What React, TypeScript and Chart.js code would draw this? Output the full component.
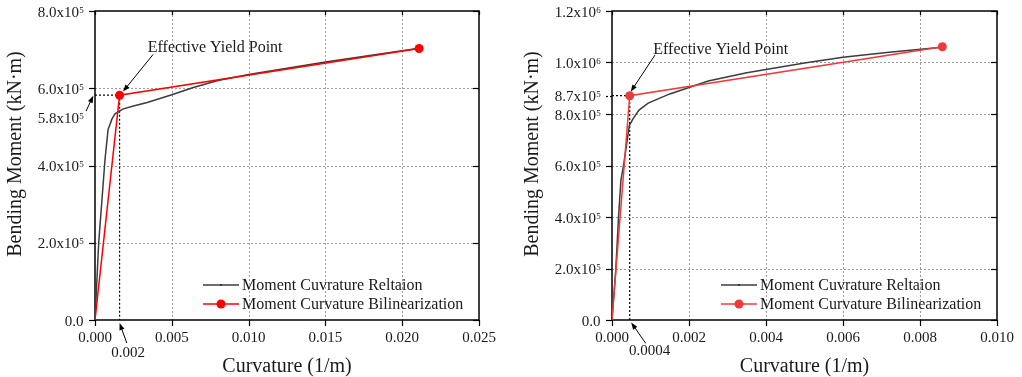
import React, { useEffect, useRef } from 'react';
import { Chart, registerables } from 'chart.js';

Chart.register(...registerables);

// ---------- DATA (left panel) ----------
const curvatureLeft = [0, 0.00024, 0.00065, 0.00085, 0.0011, 0.0013, 0.0018, 0.0025, 0.0034, 0.005, 0.0064, 0.008, 0.0101, 0.015, 0.021];
const momentLeft = [0, 200000, 415000, 493000, 520000, 534000, 546000, 554000, 563000, 583000, 602000, 620000, 636000, 668000, 703000];
const bilinCurvatureLeft = [0, 0.0016, 0.0211];
const bilinMomentLeft = [0, 582000, 703000];
const xTicksLeft = [0, 0.005, 0.01, 0.015, 0.02, 0.025];
const xTickLabelsLeft = ['0.000', '0.005', '0.010', '0.015', '0.020', '0.025'];
const yTicksLeft = [0, 200000, 400000, 600000, 800000];
const yTickLabelsLeft = ['0.0', '2.0x10^5', '4.0x10^5', '6.0x10^5', '8.0x10^5'];

// ---------- DATA (right panel) ----------
const curvatureRight = [0, 0.0001, 0.00017, 0.00023, 0.00031, 0.00045, 0.00055, 0.0007, 0.00094, 0.0015, 0.002, 0.0025, 0.0035, 0.005, 0.006, 0.0072, 0.0085];
const momentRight = [0, 200000, 400000, 540000, 610000, 755000, 782000, 815000, 842000, 878000, 903000, 928000, 960000, 998000, 1020000, 1040000, 1058000];
const bilinCurvatureRight = [0, 0.00046, 0.00858];
const bilinMomentRight = [0, 871000, 1061000];
const xTicksRight = [0, 0.002, 0.004, 0.006, 0.008, 0.01];
const xTickLabelsRight = ['0.000', '0.002', '0.004', '0.006', '0.008', '0.010'];
const yTicksRight = [0, 200000, 400000, 600000, 800000, 1000000, 1200000];
const yTickLabelsRight = ['0.0', '2.0x10^5', '4.0x10^5', '6.0x10^5', '8.0x10^5', '1.0x10^6', '1.2x10^6'];

// ---------- TEXT ----------
const seriesNames = ['Moment Cuvrature Reltaion', 'Moment Curvature Bilinearization'];
const xTitle = 'Curvature (1/m)';
const yTitle = 'Bending Moment (kN\u00B7m)';
const annotationText = 'Effective Yield Point';
const yieldYLabelLeft = '5.8x10^5';
const yieldXLabelLeft = '0.002';
const yieldYLabelRight = '8.7x10^5';
const yieldXLabelRight = '0.0004';

const FONT = '"Liberation Serif", "Times New Roman", serif';
const TEXT = '#1a1a1a';

type Panel = {
  curvature: number[];
  moment: number[];
  bCurv: number[];
  bMom: number[];
  xTicks: number[];
  xTickLabels: string[];
  yTicks: number[];
  yTickLabels: string[];
  red: string;
  yLabel: string;
  xLabel: string;
  yLabelArrow: boolean;
  yLabelDy: number;
  yLabelTick: boolean;
  txt: [number, number];
  arrTail: [number, number];
  arrTip: [number, number];
  xlab: [number, number];
  xArrTail: [number, number];
  xArrTip: [number, number];
  yArrTail: [number, number];
  yArrTip: [number, number];
  axisLeft: number;
  padRight: number;
};

function drawSup(ctx: CanvasRenderingContext2D, label: string, x: number, base: number, align: 'right' | 'center' | 'left', size = 15) {
  const [main, sup] = label.split('^');
  ctx.font = `${size}px ${FONT}`;
  const w1 = ctx.measureText(main).width;
  ctx.font = `9px ${FONT}`;
  const w2 = sup ? ctx.measureText(sup).width : 0;
  const total = w1 + w2;
  let sx = x;
  if (align === 'right') sx = x - total;
  else if (align === 'center') sx = x - total / 2;
  ctx.textAlign = 'left';
  ctx.textBaseline = 'alphabetic';
  ctx.fillStyle = TEXT;
  ctx.font = `${size}px ${FONT}`;
  ctx.fillText(main, sx, base);
  if (sup) {
    ctx.font = `9px ${FONT}`;
    ctx.fillText(sup, sx + w1 + 0.3, base - 4);
  }
}

function arrow(ctx: CanvasRenderingContext2D, x1: number, y1: number, x2: number, y2: number) {
  const ang = Math.atan2(y2 - y1, x2 - x1);
  const L = 7, W = 2.6;
  ctx.save();
  ctx.strokeStyle = '#000';
  ctx.fillStyle = '#000';
  ctx.lineWidth = 1;
  ctx.setLineDash([]);
  ctx.beginPath();
  ctx.moveTo(x1, y1);
  ctx.lineTo(x2 - Math.cos(ang) * L * 0.8, y2 - Math.sin(ang) * L * 0.8);
  ctx.stroke();
  ctx.beginPath();
  ctx.moveTo(x2, y2);
  ctx.lineTo(x2 - Math.cos(ang) * L - Math.sin(ang) * W, y2 - Math.sin(ang) * L + Math.cos(ang) * W);
  ctx.lineTo(x2 - Math.cos(ang) * L + Math.sin(ang) * W, y2 - Math.sin(ang) * L - Math.cos(ang) * W);
  ctx.closePath();
  ctx.fill();
  ctx.restore();
}

const panelPlugin = {
  id: 'panel',
  beforeDatasetsDraw(chart: any) {
    const p: Panel = chart.options.plugins.panel;
    const { ctx, chartArea: a } = chart;
    const xs = chart.scales.x, ys = chart.scales.y;
    ctx.save();
    ctx.strokeStyle = '#9c9c9c';
    ctx.lineWidth = 1;
    ctx.setLineDash([2, 2]);
    p.xTicks.slice(1, -1).forEach((v) => {
      const px = Math.round(xs.getPixelForValue(v)) + 0.5;
      ctx.beginPath(); ctx.moveTo(px, a.top); ctx.lineTo(px, a.bottom); ctx.stroke();
    });
    p.yTicks.slice(1, -1).forEach((v) => {
      const py = Math.round(ys.getPixelForValue(v)) + 0.5;
      ctx.beginPath(); ctx.moveTo(a.left, py); ctx.lineTo(a.right, py); ctx.stroke();
    });
    ctx.setLineDash([]);
    ctx.strokeStyle = '#000';
    ctx.lineWidth = 1.5;
    ctx.strokeRect(a.left, a.top, a.right - a.left, a.bottom - a.top);
    ctx.lineWidth = 1.2;
    p.xTicks.forEach((v) => {
      const px = Math.round(xs.getPixelForValue(v)) + 0.5;
      ctx.beginPath(); ctx.moveTo(px, a.bottom); ctx.lineTo(px, a.bottom + 6); ctx.stroke();
      ctx.beginPath(); ctx.moveTo(px, a.top); ctx.lineTo(px, a.top + 4); ctx.stroke();
    });
    p.yTicks.forEach((v) => {
      const py = Math.round(ys.getPixelForValue(v)) + 0.5;
      ctx.beginPath(); ctx.moveTo(a.left - 6, py); ctx.lineTo(a.left, py); ctx.stroke();
      ctx.beginPath(); ctx.moveTo(a.right - 6, py); ctx.lineTo(a.right, py); ctx.stroke();
    });
    ctx.restore();
  },
  afterDatasetsDraw(chart: any) {
    const p: Panel = chart.options.plugins.panel;
    const { ctx, chartArea: a } = chart;
    const xs = chart.scales.x, ys = chart.scales.y;
    ctx.save();
    p.xTicks.forEach((v, i) => drawSup(ctx, p.xTickLabels[i], xs.getPixelForValue(v), a.bottom + 22, 'center'));
    p.yTicks.forEach((v, i) => drawSup(ctx, p.yTickLabels[i], a.left - 11.5, ys.getPixelForValue(v) + 5.5, 'right'));
    ctx.fillStyle = TEXT;
    ctx.font = `20px ${FONT}`;
    ctx.textAlign = 'center';
    ctx.textBaseline = 'alphabetic';
    ctx.fillText(xTitle, (a.left + a.right) / 2, a.bottom + 51.5);
    ctx.save();
    ctx.translate(a.left - 74.5, 154);
    ctx.rotate(-Math.PI / 2);
    ctx.fillText(yTitle, 0, 0);
    ctx.restore();
    const lx = a.right - 276;
    const rows = [a.bottom - 35, a.bottom - 16];
    const cols = ['#3c3c3c', p.red];
    rows.forEach((ry, i) => {
      ctx.strokeStyle = cols[i];
      ctx.lineWidth = 1.5;
      ctx.beginPath(); ctx.moveTo(lx, ry); ctx.lineTo(lx + 36, ry); ctx.stroke();
      ctx.fillStyle = cols[i];
      if (i === 0) {
        ctx.fillRect(lx + 17, ry - 1, 2, 2);
      } else {
        ctx.beginPath(); ctx.arc(lx + 18, ry, 4.5, 0, Math.PI * 2); ctx.fill();
      }
      ctx.fillStyle = TEXT;
      ctx.font = `16px ${FONT}`;
      ctx.textAlign = 'left';
      ctx.fillText(seriesNames[i], lx + 39, ry + 5);
    });
    const yx = xs.getPixelForValue(p.bCurv[1]);
    const yy = ys.getPixelForValue(p.bMom[1]);
    ctx.fillStyle = TEXT;
    ctx.font = `16px ${FONT}`;
    ctx.textAlign = 'left';
    ctx.fillText(annotationText, yx + p.txt[0], yy + p.txt[1]);
    arrow(ctx, yx + p.arrTail[0], yy + p.arrTail[1], yx + p.arrTip[0], yy + p.arrTip[1]);
    drawSup(ctx, p.yLabel, a.left - 11.5, yy + p.yLabelDy, 'right');
    if (p.yLabelArrow) arrow(ctx, a.left + p.yArrTail[0], yy + p.yArrTail[1], a.left + p.yArrTip[0], yy + p.yArrTip[1]);
    if (p.yLabelTick) {
      ctx.strokeStyle = '#000';
      ctx.lineWidth = 1.2;
      ctx.setLineDash([2, 2]);
      ctx.beginPath(); ctx.moveTo(a.left - 6, Math.round(yy) + 0.5); ctx.lineTo(a.left, Math.round(yy) + 0.5); ctx.stroke();
      ctx.setLineDash([]);
    }
    drawSup(ctx, p.xLabel, yx + p.xlab[0], a.bottom + p.xlab[1], 'center');
    arrow(ctx, yx + p.xArrTail[0], a.bottom + p.xArrTail[1], yx + p.xArrTip[0], a.bottom + p.xArrTip[1]);
    ctx.restore();
  },
};

function ChartPanel({ p, width }: { p: Panel; width: number }) {
  const ref = useRef<HTMLCanvasElement | null>(null);
  useEffect(() => {
    if (!ref.current) return;
    const black = p.curvature.map((c, i) => ({ x: c, y: p.moment[i] }));
    const red = p.bCurv.map((c, i) => ({ x: c, y: p.bMom[i] }));
    const guide = [
      { x: 0, y: p.bMom[1] },
      { x: p.bCurv[1], y: p.bMom[1] },
      { x: p.bCurv[1], y: 0 },
    ];
    const chart = new Chart(ref.current, {
      type: 'line',
      data: {
        datasets: [
          {
            label: seriesNames[1],
            data: red,
            borderColor: p.red,
            backgroundColor: p.red,
            borderWidth: 1.5,
            pointRadius: [0, 4.5, 4.5],
            pointBackgroundColor: p.red,
            pointBorderWidth: 0,
            tension: 0,
          },
          {
            label: seriesNames[0],
            data: black,
            borderColor: '#3c3c3c',
            borderWidth: 1.5,
            pointRadius: 0,
            tension: 0,
          },
          {
            label: 'guide',
            data: guide,
            borderColor: '#000',
            borderWidth: 1.2,
            borderDash: [2, 2],
            pointRadius: 0,
            tension: 0,
          },
        ],
      } as any,
      options: {
        responsive: false,
        animation: false,
        layout: { padding: { left: 0, right: p.padRight, top: 11, bottom: 0 } },
        plugins: {
          legend: { display: false },
          tooltip: { enabled: false },
          panel: p,
        } as any,
        scales: {
          x: {
            type: 'linear',
            min: p.xTicks[0],
            max: p.xTicks[p.xTicks.length - 1],
            ticks: { display: false },
            grid: { display: false },
            border: { display: false },
            afterFit: (s: any) => { s.height = 57; },
          },
          y: {
            type: 'linear',
            min: p.yTicks[0],
            max: p.yTicks[p.yTicks.length - 1],
            ticks: { display: false },
            grid: { display: false },
            border: { display: false },
            afterFit: (s: any) => { s.width = p.axisLeft; },
          },
        },
      } as any,
      plugins: [panelPlugin],
    });
    return () => chart.destroy();
  }, [p]);
  return <canvas ref={ref} width={width} height={377} style={{ display: 'block' }} />;
}

const leftPanel: Panel = {
  curvature: curvatureLeft,
  moment: momentLeft,
  bCurv: bilinCurvatureLeft,
  bMom: bilinMomentLeft,
  xTicks: xTicksLeft,
  xTickLabels: xTickLabelsLeft,
  yTicks: yTicksLeft,
  yTickLabels: yTickLabelsLeft,
  red: '#ff0000',
  yLabel: yieldYLabelLeft,
  xLabel: yieldXLabelLeft,
  yLabelArrow: true,
  yLabelDy: 28,
  yLabelTick: false,
  txt: [28.2, -43],
  arrTail: [33.5, -40.7],
  arrTip: [3.5, -3.7],
  xlab: [8.5, 36.5],
  xArrTail: [7.2, 23],
  xArrTip: [0, 3],
  yArrTail: [-9, 16],
  yArrTip: [-1.7, 0.5],
  axisLeft: 95,
  padRight: 32,
};

const rightPanel: Panel = {
  curvature: curvatureRight,
  moment: momentRight,
  bCurv: bilinCurvatureRight,
  bMom: bilinMomentRight,
  xTicks: xTicksRight,
  xTickLabels: xTickLabelsRight,
  yTicks: yTicksRight,
  yTickLabels: yTickLabelsRight,
  red: '#f03a3a',
  yLabel: yieldYLabelRight,
  xLabel: yieldXLabelRight,
  yLabelArrow: false,
  yLabelDy: 5.5,
  yLabelTick: true,
  txt: [23.6, -41.7],
  arrTail: [25.3, -40.7],
  arrTip: [1, -4],
  xlab: [20, 35],
  xArrTail: [16, 23.3],
  xArrTip: [1.5, 2.5],
  yArrTail: [0, 0],
  yArrTip: [0, 0],
  axisLeft: 101,
  padRight: 25,
};

export default function App() {
  return (
    <div style={{ position: 'fixed', left: 0, top: 0, width: 1022, height: 377, background: '#fff', display: 'flex' }}>
      <ChartPanel p={leftPanel} width={511} />
      <ChartPanel p={rightPanel} width={511} />
    </div>
  );
}
